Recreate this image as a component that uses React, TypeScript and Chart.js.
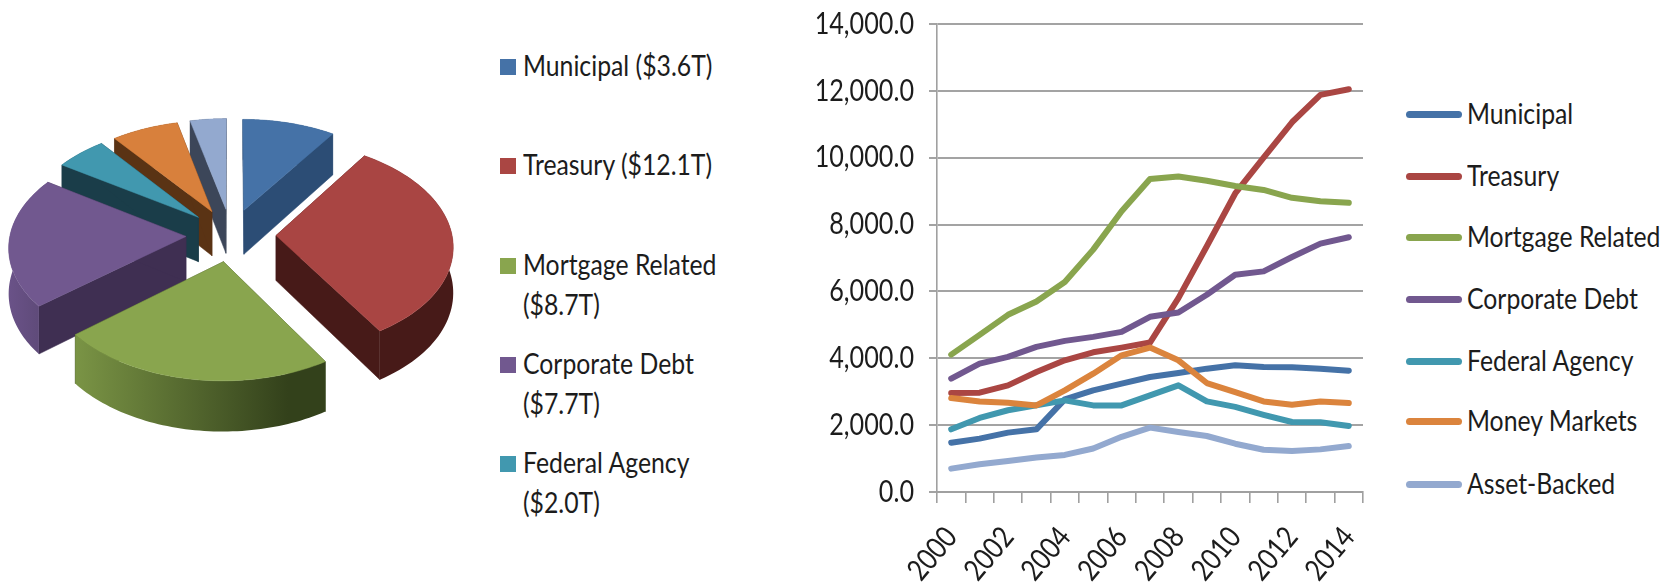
import React, { useEffect, useRef } from "react";
import { Chart, registerables } from "chart.js";

Chart.register(...registerables);

const FONT = "Lato, 'Liberation Sans', sans-serif";
const TEXT = "#1c1c1c";
const SQUEEZE = 0.84;

const years = ["2000","2001","2002","2003","2004","2005","2006","2007","2008","2009","2010","2011","2012","2013","2014"];
const seriesNames = ["Municipal","Treasury","Mortgage Related","Corporate Debt","Federal Agency","Money Markets","Asset-Backed"];
const seriesColors = ["#4572A7","#AA4643","#89A54E","#71588F","#4198AF","#DB843D","#93A9CF"];

const municipal = [1476,1596,1776,1875,2770,3040,3240,3440,3560,3690,3790,3740,3730,3690,3630];
const treasury = [2960,2970,3190,3590,3940,4180,4320,4470,5800,7350,8930,10000,11060,11880,12050];
const mortgage = [4110,4700,5300,5700,6280,7250,8400,9360,9440,9310,9155,9035,8800,8700,8650];
const corporate = [3390,3840,4040,4340,4520,4640,4790,5240,5370,5900,6500,6600,7030,7430,7620];
const federal = [1875,2215,2445,2595,2740,2590,2590,2890,3190,2710,2545,2310,2095,2085,1975];
const money = [2810,2710,2670,2590,3040,3540,4090,4320,3940,3260,2990,2710,2610,2710,2660];
const asset = [700,830,930,1030,1110,1300,1650,1925,1795,1675,1445,1265,1225,1275,1375];
const allSeries = [municipal, treasury, mortgage, corporate, federal, money, asset];

const pieValues = [3.6, 12.1, 8.7, 7.7, 2.0, 2.6, 1.4];
const pieTop = ["#4572A7","#A94543","#89A54E","#71588F","#4198AF","#D8803C","#93A9CF"];
const pieWall = ["#2C4D75","#471A18","#3B4A20","#3F2F52","#1A3D49","#5A3314","#3C4659"];
const pieOuterFrom = ["#2C4D75","#471A18","#7A9445","#6A5288","#1A3D49","#5A3314","#3C4659"];
const pieOuterTo = ["#2C4D75","#471A18","#33411B","#5E4A78","#1A3D49","#5A3314","#3C4659"];

const pieLegendRows = [
  ["Municipal ($3.6T)"],
  ["Treasury ($12.1T)"],
  ["Mortgage Related", "($8.7T)"],
  ["Corporate Debt", "($7.7T)"],
  ["Federal Agency", "($2.0T)"],
];
const pieLegendCenters = [67, 166, 266, 365, 464];
const lineLegendCenters = [115, 177, 238, 300, 362, 422, 485];

const TILT = 0.587;
const PERSP = 0.000512;
const DEPTH = 45;

const pie3d = {
  id: "pie3d",
  beforeDatasetsDraw(chart: any) {
    const ctx = chart.ctx;
    const arcs = chart.getDatasetMeta(0).data;
    const project = (cx: number, cy: number, u: number, v: number, drop = 0) => {
      const s = 1 / (1 - PERSP * v);
      return [cx + s * u, cy + s * v * TILT + drop * s];
    };
    const order = arcs
      .map((arc: any, i: number) => ({ arc, i, mid: (arc.startAngle + arc.endAngle) / 2 }))
      .sort((a: any, b: any) => Math.sin(a.mid) - Math.sin(b.mid));
    for (const { arc, i, mid } of order) {
      const off = arc.options.offset;
      const ox = off * Math.cos(mid);
      const oy = off * Math.sin(mid);
      const r = arc.outerRadius;
      const rim: number[][] = [];
      const n = 60;
      for (let k = 0; k <= n; k++) {
        const a = arc.startAngle + ((arc.endAngle - arc.startAngle) * k) / n;
        rim.push([ox + r * Math.cos(a), oy + r * Math.sin(a)]);
      }
      const P = (p: number[], d = 0) => project(arc.x + 1, arc.y, p[0], p[1], d);
      const apex = [ox, oy];
      const poly = (pts: number[][], fill: any) => {
        ctx.beginPath();
        pts.forEach((p, j) => (j ? ctx.lineTo(p[0], p[1]) : ctx.moveTo(p[0], p[1])));
        ctx.closePath();
        ctx.fillStyle = fill;
        ctx.strokeStyle = fill;
        ctx.lineWidth = 0.5;
        ctx.fill();
        if (typeof fill === "string") ctx.stroke();
      };
      poly([P(apex), P(rim[0]), P(rim[0], DEPTH), P(apex, DEPTH)], pieWall[i]);
      poly([P(apex), P(rim[n]), P(rim[n], DEPTH), P(apex, DEPTH)], pieWall[i]);
      const topEdge = rim.map((p) => P(p));
      const botEdge = rim.map((p) => P(p, DEPTH)).reverse();
      const xs = topEdge.map((p) => p[0]);
      const grad = ctx.createLinearGradient(Math.min(...xs), 0, Math.max(...xs), 0);
      grad.addColorStop(0, pieOuterFrom[i]);
      grad.addColorStop(0.85, pieOuterTo[i]);
      grad.addColorStop(1, pieOuterTo[i]);
      poly([...topEdge, ...botEdge], grad);
      poly([P(apex), ...topEdge], pieTop[i]);
    }
    return false;
  },
};

// Narrows every label along its own direction, so the axes keep placing and rotating them.
const condensedText = {
  id: "condensedText",
  beforeInit(chart: any) {
    const ctx = chart.ctx;
    const fill = ctx.fillText.bind(ctx);
    ctx.fillText = (t: string, x: number, y: number) => {
      ctx.save();
      ctx.translate(x, y);
      ctx.scale(SQUEEZE, 1);
      fill(t, 0, 0);
      ctx.restore();
    };
  },
};

export default function App() {
  const pieRef = useRef<HTMLCanvasElement>(null);
  const lineRef = useRef<HTMLCanvasElement>(null);

  useEffect(() => {
    const pieChart = new Chart(pieRef.current as HTMLCanvasElement, {
      type: "pie",
      data: {
        labels: seriesNames,
        datasets: [{ data: pieValues, backgroundColor: pieTop, borderWidth: 0, offset: 45 }],
      },
      options: {
        animation: false,
        responsive: false,
        radius: 176,
        layout: { padding: 0 },
        plugins: { legend: { display: false }, tooltip: { enabled: false } },
      } as any,
      plugins: [pie3d],
    } as any);

    const lineChart = new Chart(lineRef.current as HTMLCanvasElement, {
      type: "line",
      data: {
        labels: years,
        datasets: allSeries.map((data, i) => ({
          label: seriesNames[i],
          data,
          borderColor: seriesColors[i],
          backgroundColor: seriesColors[i],
          borderWidth: 6,
          borderCapStyle: "round",
          borderJoinStyle: "round",
          pointRadius: 0,
          tension: 0,
          order: -i,
        })),
      },
      options: {
        animation: false,
        responsive: false,
        layout: { padding: { top: 24, right: 2, left: 0, bottom: 0 } },
        plugins: { legend: { display: false }, tooltip: { enabled: false } },
        scales: {
          x: {
            offset: true,
            afterFit: (s: any) => { s.height = 92; s.paddingLeft = 0; s.paddingRight = 0; },
            grid: { offset: true, drawOnChartArea: false, tickLength: 11, color: "#a0a0a0", lineWidth: 1.6 },
            border: { color: "#a0a0a0", width: 2 },
            ticks: {
              autoSkip: false,
              minRotation: 50,
              maxRotation: 50,
              padding: 17,
              color: TEXT,
              font: { family: FONT, size: 30 },
              callback: (_v: any, i: number) => (i % 2 === 0 ? years[i] : ""),
            },
          },
          y: {
            min: 0,
            max: 14000,
            afterFit: (s: any) => { s.width = 137; s.paddingTop = 0; s.paddingBottom = 0; },
            grid: { tickLength: 8, color: "#a3a3a3", lineWidth: 2 },
            border: { color: "#a0a0a0", width: 1.6 },
            ticks: {
              stepSize: 2000,
              padding: 15,
              color: TEXT,
              font: { family: FONT, size: 30 },
              callback: (v: any) =>
                Number(v).toLocaleString("en-US", { minimumFractionDigits: 1, maximumFractionDigits: 1 }),
            },
          },
        },
      },
      plugins: [condensedText],
    } as any);

    return () => {
      pieChart.destroy();
      lineChart.destroy();
    };
  }, []);

  const textStyle: React.CSSProperties = {
    position: "absolute",
    fontFamily: FONT,
    fontSize: 29.5,
    lineHeight: "40px",
    color: TEXT,
    whiteSpace: "nowrap",
    transform: `scaleX(${SQUEEZE})`,
    transformOrigin: "left top",
  };

  return (
    <div style={{ position: "absolute", left: 0, top: 0, width: 1677, height: 584, overflow: "hidden", background: "#fff", filter: "blur(0.75px)" }}>
      <canvas ref={pieRef} width={460} height={470} style={{ position: "absolute", left: 0, top: 0 }} />
      <canvas ref={lineRef} width={565} height={584} style={{ position: "absolute", left: 800, top: 0 }} />
      {pieLegendRows.map((lines, i) => (
        <React.Fragment key={lines[0]}>
          <div style={{ position: "absolute", left: 500, top: pieLegendCenters[i] - 8, width: 16, height: 16, background: seriesColors[i] }} />
          <div style={{ ...textStyle, left: 523, top: pieLegendCenters[i] - 22 }}>
            {lines.map((t) => (<div key={t}>{t}</div>))}
          </div>
        </React.Fragment>
      ))}
      {seriesNames.map((name, i) => (
        <React.Fragment key={name}>
          <div style={{ position: "absolute", left: 1406, top: lineLegendCenters[i] - 4, width: 56, height: 7, borderRadius: 3.5, background: seriesColors[i] }} />
          <div style={{ ...textStyle, left: 1467, top: lineLegendCenters[i] - 22.5 }}>{name}</div>
        </React.Fragment>
      ))}
    </div>
  );
}
